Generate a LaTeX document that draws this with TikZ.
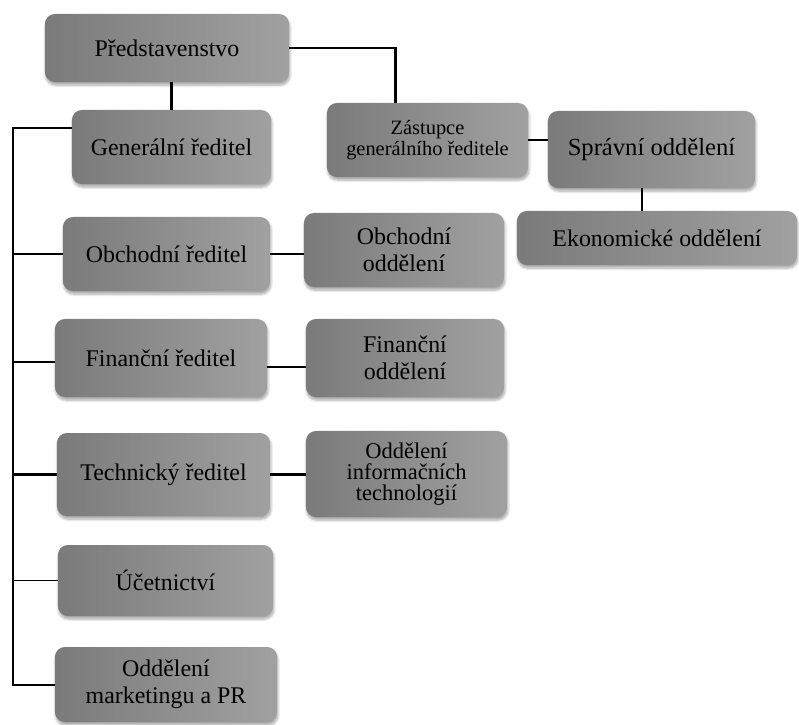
\documentclass[tikz,border=0pt]{standalone}
\usepackage{fontspec}
\setmainfont{Liberation Serif}
\usepackage{tikz}
\usetikzlibrary{calc,shadows.blur}
\tikzset{box/.style={draw=none, rounded corners=7pt, left color=black!52, right color=black!37,
    blur shadow={shadow blur steps=6, shadow xshift=0.6pt, shadow yshift=-2.2pt, shadow opacity=35},
    align=center, font=\fontsize{17}{19}\selectfont, text=black},
  link/.style={black, line width=1.7pt},
  thinlink/.style={black, line width=0.8pt}}

\begin{document}
\begin{tikzpicture}[x=0.025cm, y=-0.025cm]
    \useasboundingbox (0,0) rectangle (799,724);

    % Vedeni
    \node[box, minimum width=6.1cm, minimum height=1.7cm] (pred) at (167,48) {Představenstvo};
    \node[box, minimum width=4.975cm, minimum height=1.85cm] (gen) at (171.5,147) {Generální ředitel};
    \node[box, minimum width=5.025cm, minimum height=1.85cm, font=\fontsize{14.5}{15}\selectfont] (zast) at (427.5,140) {Zástupce\\generálního ředitele};
    \node[box, minimum width=5.175cm, minimum height=1.925cm, font=\fontsize{17.5}{19}\selectfont] (spr) at (651.5,149.5) {Správní oddělení};
    \node[box, minimum width=7cm, minimum height=1.35cm] (eko) at (657,238) {Ekonomické oddělení};

    % Reditele
    \node[box, minimum width=5.175cm, minimum height=1.85cm] (obr) at (166.5,254) {Obchodní ředitel};
    \node[box, minimum width=5.3cm, minimum height=1.95cm] (fir) at (161,358) {Finanční ředitel};
    \node[box, minimum width=5.325cm, minimum height=2.075cm] (ter) at (163.5,474.5) {Technický ředitel};
    \node[box, minimum width=5.375cm, minimum height=1.775cm] (uct) at (165.5,580.5) {Účetnictví};
    \node[box, minimum width=5.55cm, minimum height=1.875cm] (mkt) at (166,684.5) {Oddělení\\marketingu a PR};

    % Oddeleni
    \node[box, minimum width=5cm, minimum height=1.85cm] (obo) at (404,250) {Obchodní\\oddělení};
    \node[box, minimum width=4.95cm, minimum height=1.95cm] (fio) at (405,358) {Finanční\\oddělení};
    \node[box, minimum width=5.025cm, minimum height=2.15cm, font=\fontsize{16}{15}\selectfont] (ito) at (406.5,474) {Oddělení\\informačních\\technologií};

    % Spojnice
    \coordinate (trunk) at (13,128);
    \coordinate (trunkend) at (13,685);
    \draw[link] (pred.south -| gen.north) -- (gen.north);
    \draw[link] (pred.east) -| ([xshift=-0.8cm]zast.north);
    \draw[link] (zast.east) -- (zast.east -| spr.west);
    \draw[link] ([xshift=-0.24cm]spr.south) -- ([xshift=-0.24cm]spr.south |- eko.north);
    \draw[link] (gen.west |- trunk) -- (trunk) -- (trunkend) -- (mkt.west |- trunkend);
    \draw[link] (obr.west) -- (obr.west -| trunk);
    \draw[link] ([yshift=-0.1cm]fir.west) -- ([yshift=-0.1cm]fir.west -| trunk);
    \draw[link] (ter.west) -- (ter.west -| trunk);
    \draw[thinlink] (uct.west) -- (uct.west -| trunk);
    \draw[link] (obr.east) -- (obr.east -| obo.west);
    \draw[link] ([yshift=-0.22cm]fir.east) -- ([yshift=-0.22cm]fir.east -| fio.west);
    \draw[link] (ter.east) -- (ter.east -| ito.west);
\end{tikzpicture}
\end{document}
